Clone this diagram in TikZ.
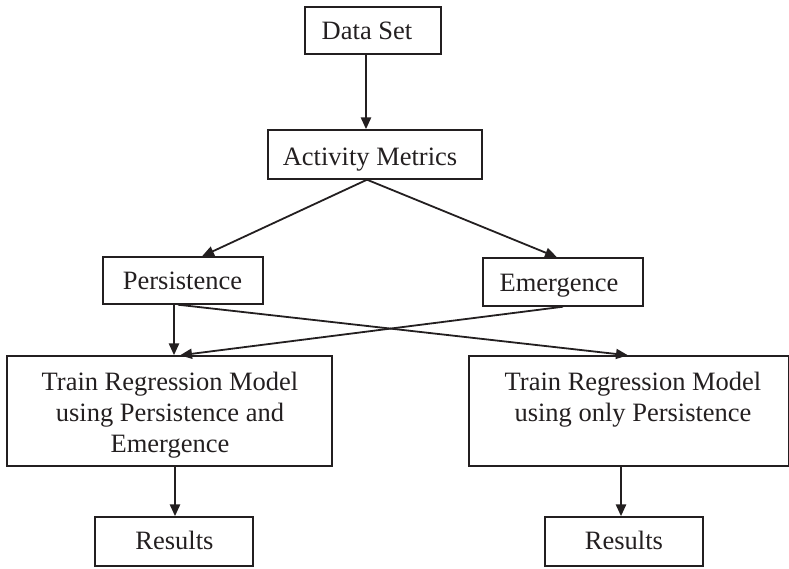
\documentclass[tikz,border=0pt]{standalone}
\usepackage{fontspec}
\setmainfont{Liberation Serif}
\usetikzlibrary{arrows.meta}
\definecolor{ink}{HTML}{231F20}
\tikzset{
  box/.style 2 args={draw=ink,line width=1.4pt,inner sep=0pt,minimum width=#1pt,minimum height=#2pt},
  lbl/.style={font=\fontsize{26.5}{31}\selectfont,text=ink,inner sep=0pt,anchor=base,align=center},
  arr/.style={draw=ink,line width=2.6pt,-{Triangle[length=12pt,width=10pt]}},
  darr/.style={draw=ink,line width=1.8pt,-{Triangle[length=12pt,width=10pt]}}
}
\begin{document}
\begin{tikzpicture}[x=1pt,y=-1pt]
\useasboundingbox (0,0) rectangle (789,568);
% boxes
\node[box={136}{47}]  (ds) at (373,30.5) {};
\node[box={214}{49}]  (am) at (375,154.5) {};
\node[box={160}{47}]  (pe) at (183,280.5) {};
\node[box={160}{48}]  (em) at (563,282) {};
\node[box={325}{110}] (tl) at (169.5,411) {};
\node[box={320}{110}] (tr) at (629,411) {};
\node[box={158}{49}]  (rl) at (174,541.5) {};
\node[box={158}{49}]  (rr) at (624,541.5) {};
% texts
\node[lbl] (dst) at (367,39) {Data Set};
\node[lbl] (amt) at (370,165) {Activity Metrics};
\node[lbl] (pet) at (182.5,289) {Persistence};
\node[lbl] (emt) at (559,291) {Emergence};
\node[lbl] (tlt) at (170,452) {Train Regression Model\\using Persistence and\\Emergence};
\node[lbl] (trt) at (633,421) {Train Regression Model\\using only Persistence};
\node[lbl] (rlt) at (174.5,549) {Results};
\node[lbl] (rrt) at (624,549) {Results};
% connectors
\draw[arr] ([xshift=-7pt]ds.south) -- ([xshift=-9pt]am.north);
\draw[darr] ([xshift=-8pt]am.south) -- ([xshift=19pt]pe.north);
\draw[darr] ([xshift=-8pt]am.south) -- ([xshift=-6pt]em.north);
\draw[arr] ([xshift=-9pt]pe.south) -- ([xshift=4.5pt]tl.north);
\draw[darr] ([xshift=-5pt]pe.south) -- ([xshift=-1pt]tr.north);
\draw[darr] (em.south) -- ([xshift=10.5pt]tl.north);
\draw[arr] ([xshift=5.5pt]tl.south) -- ([xshift=1pt]rl.north);
\draw[arr] ([xshift=-8pt]tr.south) -- ([xshift=-3pt]rr.north);
\end{tikzpicture}
\end{document}
